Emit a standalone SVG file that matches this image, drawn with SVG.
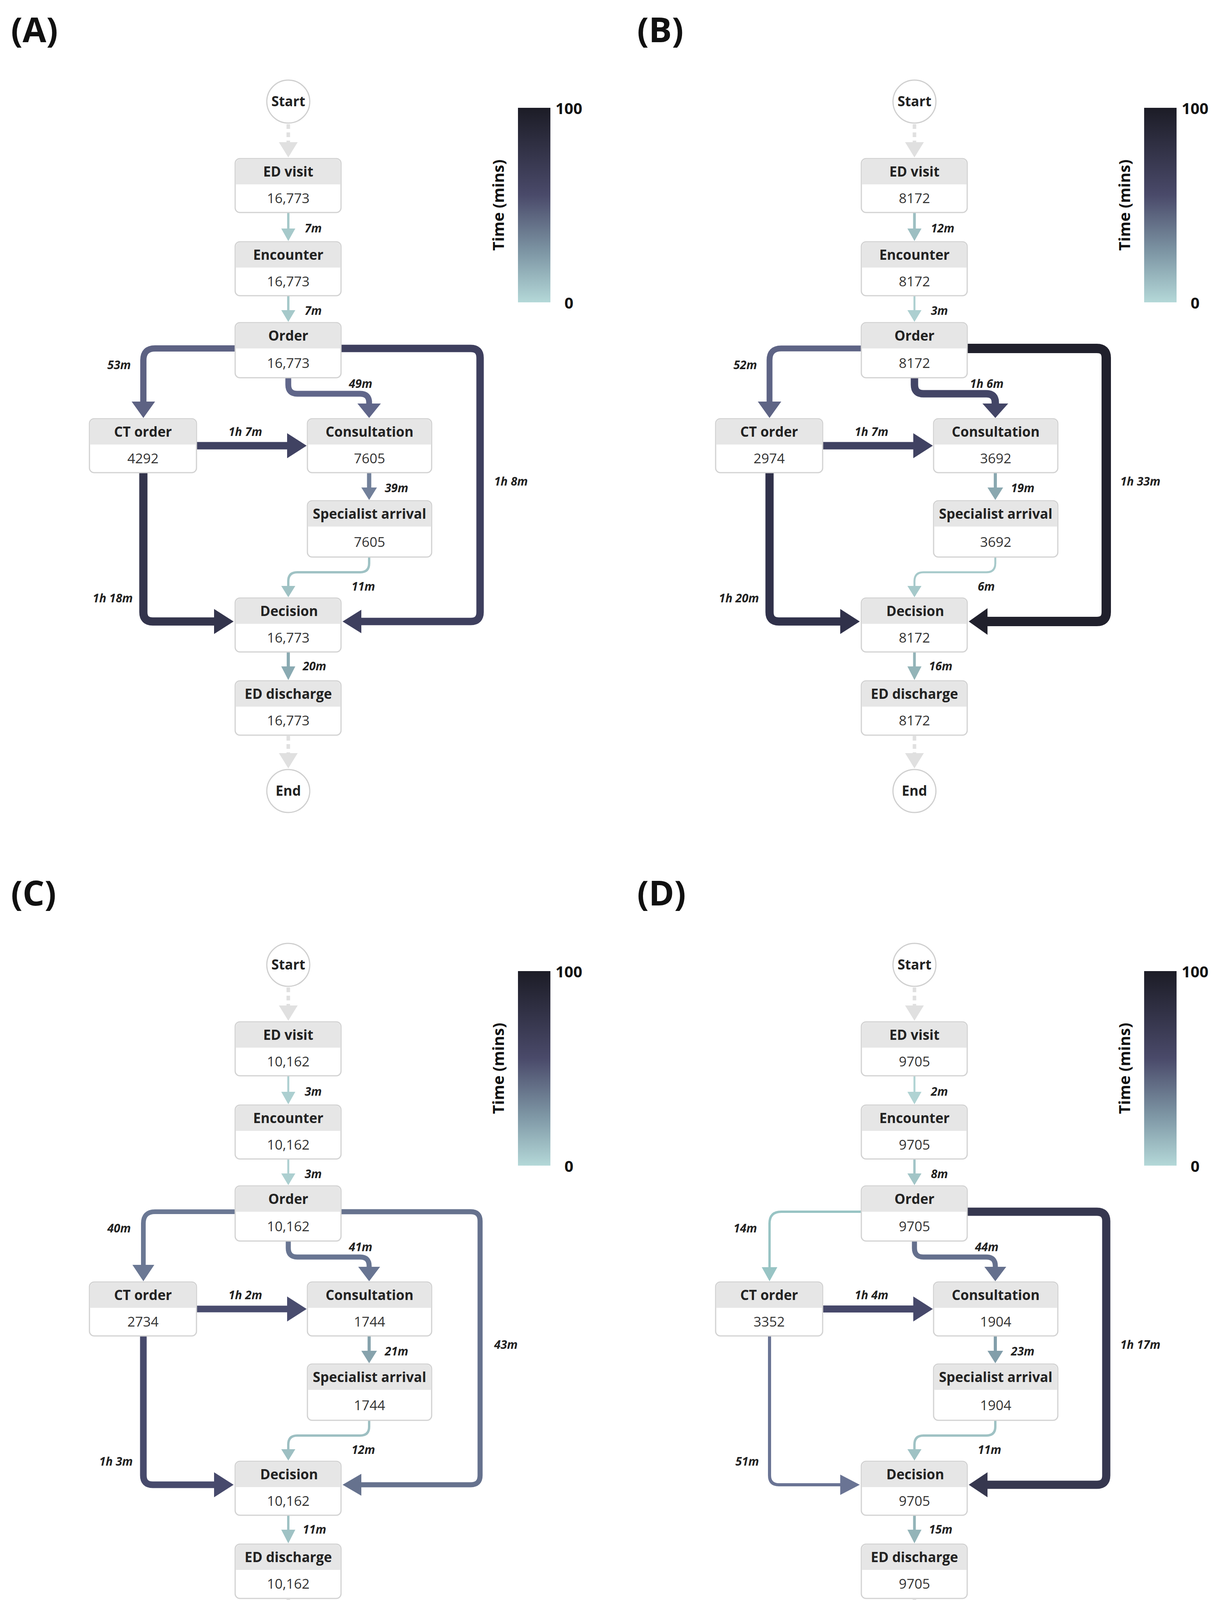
<svg xmlns="http://www.w3.org/2000/svg" width="3136" height="4333" viewBox="0 0 3136 4333">
<style>
.bg{fill:#fff}
.box{fill:#fff;stroke:#d2d2d2;stroke-width:3}
.hd{fill:#e6e6e6}
.ci{fill:#fff;stroke:#cfcfcf;stroke-width:3}
.t{font-family:"Open Sans","Noto Sans",sans-serif;font-weight:bold;font-size:35px;fill:#222;text-anchor:middle}
.v{font-family:"Open Sans","Noto Sans",sans-serif;font-size:35px;fill:#333;text-anchor:middle}
.l{font-family:"Open Sans","Noto Sans",sans-serif;font-weight:bold;font-style:italic;font-size:30px;fill:#222}
.p{font-family:"Open Sans","Noto Sans",sans-serif;font-weight:bold;font-size:88px;fill:#111}
.s{font-family:"Open Sans","Noto Sans",sans-serif;font-weight:bold;font-size:40px;fill:#111}
.e{fill:none;stroke-linejoin:round}
.d{fill:none;stroke:#e0e0e0;stroke-width:9;stroke-dasharray:12 9}
</style>
<defs>
<linearGradient id="g" x1="0" y1="0" x2="0" y2="1">
<stop offset="0" stop-color="#1c1c26"/><stop offset="0.45" stop-color="#4a4a6a"/><stop offset="0.75" stop-color="#7f98a6"/><stop offset="1" stop-color="#b4d8d8"/>
</linearGradient>
</defs>
<rect class="bg" width="3136" height="4333"/>

<!-- PANEL A -->
<g id="panelA">
<text class="p" x="28" y="108">(A)</text>
<g id="A-scale"><rect x="1326" y="276" width="83" height="498" fill="url(#g)"/><text class="s" x="1422" y="292">100</text><text class="s" x="1445" y="790">0</text><text class="s" transform="translate(1290,525) rotate(-90)" text-anchor="middle">Time (mins)</text></g>
<g id="A-edges">
<line class="d" x1="738" y1="318" x2="738" y2="366"/><polygon points="714,364 762,364 738,403" fill="#e0e0e0"/>
<line class="e" x1="738" y1="544" x2="738" y2="588" stroke="#a6c9ca" stroke-width="6"/><polygon points="720,585 756,585 738,617" fill="#a6c9ca"/>
<line class="e" x1="738" y1="757" x2="738" y2="797" stroke="#a6c9ca" stroke-width="6"/><polygon points="720,794 756,794 738,824" fill="#a6c9ca"/>
<path class="e" d="M602,892 H397 Q367,892 367,922 V1030" stroke="#5d6283" stroke-width="16"/><polygon points="337,1028 397,1028 367,1070" fill="#5d6283"/>
<path class="e" d="M738,967 V985 Q738,1008 761,1008 H922 Q945,1008 945,1031 V1035" stroke="#60668a" stroke-width="15"/><polygon points="915,1033 975,1033 945,1070" fill="#60668a"/>
<path class="e" d="M873,892 H1205 Q1229,892 1229,916 V1567 Q1229,1591 1205,1591 H923" stroke="#3e3f5e" stroke-width="19"/><polygon points="925,1561 925,1621 877,1591" fill="#3e3f5e"/>
<line class="e" x1="503" y1="1141" x2="737" y2="1141" stroke="#404262" stroke-width="19"/><polygon points="735,1109 735,1173 785,1141" fill="#404262"/>
<path class="e" d="M367,1210 V1567 Q367,1591 391,1591 H550" stroke="#33344c" stroke-width="21"/><polygon points="548,1559 548,1623 598,1591" fill="#33344c"/>
<line class="e" x1="945" y1="1210" x2="945" y2="1250" stroke="#72809a" stroke-width="11"/><polygon points="925,1248 965,1248 945,1280" fill="#72809a"/>
<path class="e" d="M945,1426 V1442 Q945,1465 922,1465 H761 Q738,1465 738,1488 V1502" stroke="#9fc2c4" stroke-width="6"/><polygon points="720,1500 756,1500 738,1529" fill="#9fc2c4"/>
<line class="e" x1="738" y1="1669" x2="738" y2="1709" stroke="#8aaab2" stroke-width="8"/><polygon points="720,1706 756,1706 738,1741" fill="#8aaab2"/>
<line class="d" x1="738" y1="1884" x2="738" y2="1930"/><polygon points="714,1928 762,1928 738,1967" fill="#e0e0e0"/>
<text class="l" x="780" y="595">7m</text><text class="l" x="780" y="806">7m</text>
<text class="l" x="335" y="945" text-anchor="end">53m</text><text class="l" x="893" y="993">49m</text>
<text class="l" x="1265" y="1243">1h 8m</text><text class="l" x="585" y="1116">1h 7m</text>
<text class="l" x="340" y="1542" text-anchor="end">1h 18m</text><text class="l" x="985" y="1260">39m</text>
<text class="l" x="900" y="1512">11m</text><text class="l" x="775" y="1716">20m</text>
</g>
<g id="A-start"><circle class="ci" cx="738" cy="260" r="55"/><text class="t" x="738" y="272" font-size="32">Start</text></g>
<g id="A-edvisit"><rect class="box" x="602" y="406" width="271" height="138" rx="12"/><rect class="hd" x="604" y="408" width="267" height="64" rx="10"/><rect class="hd" x="604" y="446" width="267" height="26"/><text class="t" x="738" y="452">ED visit</text><text class="v" x="738" y="520">16,773</text></g>
<g id="A-encounter"><rect class="box" x="602" y="619" width="271" height="138" rx="12"/><rect class="hd" x="604" y="621" width="267" height="64" rx="10"/><rect class="hd" x="604" y="659" width="267" height="26"/><text class="t" x="738" y="665">Encounter</text><text class="v" x="738" y="733">16,773</text></g>
<g id="A-order"><rect class="box" x="602" y="826" width="271" height="141" rx="12"/><rect class="hd" x="604" y="828" width="267" height="64" rx="10"/><rect class="hd" x="604" y="866" width="267" height="26"/><text class="t" x="738" y="872">Order</text><text class="v" x="738" y="942">16,773</text></g>
<g id="A-ct"><rect class="box" x="229" y="1072" width="274" height="138" rx="12"/><rect class="hd" x="231" y="1074" width="270" height="64" rx="10"/><rect class="hd" x="231" y="1112" width="270" height="26"/><text class="t" x="366" y="1118">CT order</text><text class="v" x="366" y="1186">4292</text></g>
<g id="A-consult"><rect class="box" x="787" y="1072" width="318" height="138" rx="12"/><rect class="hd" x="789" y="1074" width="314" height="64" rx="10"/><rect class="hd" x="789" y="1112" width="314" height="26"/><text class="t" x="946" y="1118">Consultation</text><text class="v" x="946" y="1186">7605</text></g>
<g id="A-spec"><rect class="box" x="787" y="1282" width="318" height="144" rx="12"/><rect class="hd" x="789" y="1284" width="314" height="64" rx="10"/><rect class="hd" x="789" y="1322" width="314" height="26"/><text class="t" x="946" y="1328">Specialist arrival</text><text class="v" x="946" y="1400">7605</text></g>
<g id="A-decision"><rect class="box" x="602" y="1531" width="271" height="138" rx="12"/><rect class="hd" x="604" y="1533" width="267" height="64" rx="10"/><rect class="hd" x="604" y="1571" width="267" height="26"/><text class="t" x="740" y="1577">Decision</text><text class="v" x="738" y="1645">16,773</text></g>
<g id="A-discharge"><rect class="box" x="602" y="1743" width="271" height="139" rx="12"/><rect class="hd" x="604" y="1745" width="267" height="64" rx="10"/><rect class="hd" x="604" y="1783" width="267" height="26"/><text class="t" x="738" y="1789">ED discharge</text><text class="v" x="738" y="1857">16,773</text></g>
<g id="A-end"><circle class="ci" cx="738" cy="2025" r="55"/><text class="t" x="738" y="2037" font-size="32">End</text></g>
</g>

<!-- PANEL B -->
<g id="panelB" transform="translate(1603,0)">
<text class="p" x="28" y="108">(B)</text>
<g id="B-scale"><rect x="1326" y="276" width="83" height="498" fill="url(#g)"/><text class="s" x="1422" y="292">100</text><text class="s" x="1445" y="790">0</text><text class="s" transform="translate(1290,525) rotate(-90)" text-anchor="middle">Time (mins)</text></g>
<g id="B-edges">
<line class="d" x1="738" y1="318" x2="738" y2="366"/><polygon points="714,364 762,364 738,403" fill="#e0e0e0"/>
<line class="e" x1="738" y1="544" x2="738" y2="588" stroke="#9dbfc2" stroke-width="7"/><polygon points="720,585 756,585 738,617" fill="#9dbfc2"/>
<line class="e" x1="738" y1="757" x2="738" y2="797" stroke="#accfd0" stroke-width="5"/><polygon points="720,794 756,794 738,824" fill="#accfd0"/>
<path class="e" d="M602,892 H397 Q367,892 367,922 V1030" stroke="#5e6485" stroke-width="15"/><polygon points="337,1028 397,1028 367,1070" fill="#5e6485"/>
<path class="e" d="M738,967 V985 Q738,1008 761,1008 H922 Q945,1008 945,1031 V1035" stroke="#434566" stroke-width="19"/><polygon points="912,1033 978,1033 945,1070" fill="#434566"/>
<path class="e" d="M873,892 H1205 Q1229,892 1229,916 V1567 Q1229,1591 1205,1591 H923" stroke="#20202c" stroke-width="24"/><polygon points="925,1557 925,1625 877,1591" fill="#20202c"/>
<line class="e" x1="503" y1="1141" x2="737" y2="1141" stroke="#404262" stroke-width="19"/><polygon points="735,1109 735,1173 785,1141" fill="#404262"/>
<path class="e" d="M367,1210 V1567 Q367,1591 391,1591 H550" stroke="#30314a" stroke-width="21"/><polygon points="548,1559 548,1623 598,1591" fill="#30314a"/>
<line class="e" x1="945" y1="1210" x2="945" y2="1250" stroke="#8aa8b0" stroke-width="8"/><polygon points="925,1248 965,1248 945,1280" fill="#8aa8b0"/>
<path class="e" d="M945,1426 V1442 Q945,1465 922,1465 H761 Q738,1465 738,1488 V1502" stroke="#a6c9ca" stroke-width="5"/><polygon points="720,1500 756,1500 738,1529" fill="#a6c9ca"/>
<line class="e" x1="738" y1="1669" x2="738" y2="1709" stroke="#93b4b8" stroke-width="7"/><polygon points="720,1706 756,1706 738,1741" fill="#93b4b8"/>
<line class="d" x1="738" y1="1884" x2="738" y2="1930"/><polygon points="714,1928 762,1928 738,1967" fill="#e0e0e0"/>
<text class="l" x="780" y="595">12m</text><text class="l" x="780" y="806">3m</text>
<text class="l" x="335" y="945" text-anchor="end">52m</text><text class="l" x="880" y="993">1h 6m</text>
<text class="l" x="1265" y="1243">1h 33m</text><text class="l" x="585" y="1116">1h 7m</text>
<text class="l" x="340" y="1542" text-anchor="end">1h 20m</text><text class="l" x="985" y="1260">19m</text>
<text class="l" x="900" y="1512">6m</text><text class="l" x="775" y="1716">16m</text>
</g>
<g id="B-start"><circle class="ci" cx="738" cy="260" r="55"/><text class="t" x="738" y="272" font-size="32">Start</text></g>
<g id="B-edvisit"><rect class="box" x="602" y="406" width="271" height="138" rx="12"/><rect class="hd" x="604" y="408" width="267" height="64" rx="10"/><rect class="hd" x="604" y="446" width="267" height="26"/><text class="t" x="738" y="452">ED visit</text><text class="v" x="738" y="520">8172</text></g>
<g id="B-encounter"><rect class="box" x="602" y="619" width="271" height="138" rx="12"/><rect class="hd" x="604" y="621" width="267" height="64" rx="10"/><rect class="hd" x="604" y="659" width="267" height="26"/><text class="t" x="738" y="665">Encounter</text><text class="v" x="738" y="733">8172</text></g>
<g id="B-order"><rect class="box" x="602" y="826" width="271" height="141" rx="12"/><rect class="hd" x="604" y="828" width="267" height="64" rx="10"/><rect class="hd" x="604" y="866" width="267" height="26"/><text class="t" x="738" y="872">Order</text><text class="v" x="738" y="942">8172</text></g>
<g id="B-ct"><rect class="box" x="229" y="1072" width="274" height="138" rx="12"/><rect class="hd" x="231" y="1074" width="270" height="64" rx="10"/><rect class="hd" x="231" y="1112" width="270" height="26"/><text class="t" x="366" y="1118">CT order</text><text class="v" x="366" y="1186">2974</text></g>
<g id="B-consult"><rect class="box" x="787" y="1072" width="318" height="138" rx="12"/><rect class="hd" x="789" y="1074" width="314" height="64" rx="10"/><rect class="hd" x="789" y="1112" width="314" height="26"/><text class="t" x="946" y="1118">Consultation</text><text class="v" x="946" y="1186">3692</text></g>
<g id="B-spec"><rect class="box" x="787" y="1282" width="318" height="144" rx="12"/><rect class="hd" x="789" y="1284" width="314" height="64" rx="10"/><rect class="hd" x="789" y="1322" width="314" height="26"/><text class="t" x="946" y="1328">Specialist arrival</text><text class="v" x="946" y="1400">3692</text></g>
<g id="B-decision"><rect class="box" x="602" y="1531" width="271" height="138" rx="12"/><rect class="hd" x="604" y="1533" width="267" height="64" rx="10"/><rect class="hd" x="604" y="1571" width="267" height="26"/><text class="t" x="740" y="1577">Decision</text><text class="v" x="738" y="1645">8172</text></g>
<g id="B-discharge"><rect class="box" x="602" y="1743" width="271" height="139" rx="12"/><rect class="hd" x="604" y="1745" width="267" height="64" rx="10"/><rect class="hd" x="604" y="1783" width="267" height="26"/><text class="t" x="738" y="1789">ED discharge</text><text class="v" x="738" y="1857">8172</text></g>
<g id="B-end"><circle class="ci" cx="738" cy="2025" r="55"/><text class="t" x="738" y="2037" font-size="32">End</text></g>
</g>

<!-- PANEL C -->
<g id="panelC" transform="translate(0,2210)">
<text class="p" x="28" y="108">(C)</text>
<g id="C-scale"><rect x="1326" y="276" width="83" height="498" fill="url(#g)"/><text class="s" x="1422" y="292">100</text><text class="s" x="1445" y="790">0</text><text class="s" transform="translate(1290,525) rotate(-90)" text-anchor="middle">Time (mins)</text></g>
<g id="C-edges">
<line class="d" x1="738" y1="318" x2="738" y2="366"/><polygon points="714,364 762,364 738,403" fill="#e0e0e0"/>
<line class="e" x1="738" y1="544" x2="738" y2="588" stroke="#accfd0" stroke-width="5"/><polygon points="720,585 756,585 738,617" fill="#accfd0"/>
<line class="e" x1="738" y1="757" x2="738" y2="797" stroke="#accfd0" stroke-width="5"/><polygon points="720,794 756,794 738,824" fill="#accfd0"/>
<path class="e" d="M602,892 H397 Q367,892 367,922 V1030" stroke="#6b7894" stroke-width="12"/><polygon points="339,1028 395,1028 367,1070" fill="#6b7894"/>
<path class="e" d="M738,967 V985 Q738,1008 761,1008 H922 Q945,1008 945,1031 V1035" stroke="#687592" stroke-width="13"/><polygon points="917,1033 973,1033 945,1070" fill="#687592"/>
<path class="e" d="M873,892 H1205 Q1229,892 1229,916 V1567 Q1229,1591 1205,1591 H923" stroke="#66728e" stroke-width="13"/><polygon points="925,1563 925,1619 877,1591" fill="#66728e"/>
<line class="e" x1="503" y1="1141" x2="737" y2="1141" stroke="#494c6e" stroke-width="17"/><polygon points="735,1109 735,1173 785,1141" fill="#494c6e"/>
<path class="e" d="M367,1210 V1567 Q367,1591 391,1591 H550" stroke="#474a6c" stroke-width="17"/><polygon points="548,1559 548,1623 598,1591" fill="#474a6c"/>
<line class="e" x1="945" y1="1210" x2="945" y2="1250" stroke="#86a2ac" stroke-width="8"/><polygon points="925,1248 965,1248 945,1280" fill="#86a2ac"/>
<path class="e" d="M945,1426 V1442 Q945,1465 922,1465 H761 Q738,1465 738,1488 V1502" stroke="#9dbfc2" stroke-width="6"/><polygon points="720,1500 756,1500 738,1529" fill="#9dbfc2"/>
<line class="e" x1="738" y1="1669" x2="738" y2="1709" stroke="#9fc2c4" stroke-width="6"/><polygon points="720,1706 756,1706 738,1741" fill="#9fc2c4"/>
<line class="d" x1="738" y1="1884" x2="738" y2="1930"/><polygon points="714,1928 762,1928 738,1967" fill="#e0e0e0"/>
<text class="l" x="780" y="595">3m</text><text class="l" x="780" y="806">3m</text>
<text class="l" x="335" y="945" text-anchor="end">40m</text><text class="l" x="893" y="993">41m</text>
<text class="l" x="1265" y="1243">43m</text><text class="l" x="585" y="1116">1h 2m</text>
<text class="l" x="340" y="1542" text-anchor="end">1h 3m</text><text class="l" x="985" y="1260">21m</text>
<text class="l" x="900" y="1512">12m</text><text class="l" x="775" y="1716">11m</text>
</g>
<g id="C-start"><circle class="ci" cx="738" cy="260" r="55"/><text class="t" x="738" y="272" font-size="32">Start</text></g>
<g id="C-edvisit"><rect class="box" x="602" y="406" width="271" height="138" rx="12"/><rect class="hd" x="604" y="408" width="267" height="64" rx="10"/><rect class="hd" x="604" y="446" width="267" height="26"/><text class="t" x="738" y="452">ED visit</text><text class="v" x="738" y="520">10,162</text></g>
<g id="C-encounter"><rect class="box" x="602" y="619" width="271" height="138" rx="12"/><rect class="hd" x="604" y="621" width="267" height="64" rx="10"/><rect class="hd" x="604" y="659" width="267" height="26"/><text class="t" x="738" y="665">Encounter</text><text class="v" x="738" y="733">10,162</text></g>
<g id="C-order"><rect class="box" x="602" y="826" width="271" height="141" rx="12"/><rect class="hd" x="604" y="828" width="267" height="64" rx="10"/><rect class="hd" x="604" y="866" width="267" height="26"/><text class="t" x="738" y="872">Order</text><text class="v" x="738" y="942">10,162</text></g>
<g id="C-ct"><rect class="box" x="229" y="1072" width="274" height="138" rx="12"/><rect class="hd" x="231" y="1074" width="270" height="64" rx="10"/><rect class="hd" x="231" y="1112" width="270" height="26"/><text class="t" x="366" y="1118">CT order</text><text class="v" x="366" y="1186">2734</text></g>
<g id="C-consult"><rect class="box" x="787" y="1072" width="318" height="138" rx="12"/><rect class="hd" x="789" y="1074" width="314" height="64" rx="10"/><rect class="hd" x="789" y="1112" width="314" height="26"/><text class="t" x="946" y="1118">Consultation</text><text class="v" x="946" y="1186">1744</text></g>
<g id="C-spec"><rect class="box" x="787" y="1282" width="318" height="144" rx="12"/><rect class="hd" x="789" y="1284" width="314" height="64" rx="10"/><rect class="hd" x="789" y="1322" width="314" height="26"/><text class="t" x="946" y="1328">Specialist arrival</text><text class="v" x="946" y="1400">1744</text></g>
<g id="C-decision"><rect class="box" x="602" y="1531" width="271" height="138" rx="12"/><rect class="hd" x="604" y="1533" width="267" height="64" rx="10"/><rect class="hd" x="604" y="1571" width="267" height="26"/><text class="t" x="740" y="1577">Decision</text><text class="v" x="738" y="1645">10,162</text></g>
<g id="C-discharge"><rect class="box" x="602" y="1743" width="271" height="139" rx="12"/><rect class="hd" x="604" y="1745" width="267" height="64" rx="10"/><rect class="hd" x="604" y="1783" width="267" height="26"/><text class="t" x="738" y="1789">ED discharge</text><text class="v" x="738" y="1857">10,162</text></g>
<g id="C-end"><circle class="ci" cx="738" cy="2025" r="55"/><text class="t" x="738" y="2037" font-size="32">End</text></g>
</g>

<!-- PANEL D -->
<g id="panelD" transform="translate(1603,2210)">
<text class="p" x="28" y="108">(D)</text>
<g id="D-scale"><rect x="1326" y="276" width="83" height="498" fill="url(#g)"/><text class="s" x="1422" y="292">100</text><text class="s" x="1445" y="790">0</text><text class="s" transform="translate(1290,525) rotate(-90)" text-anchor="middle">Time (mins)</text></g>
<g id="D-edges">
<line class="d" x1="738" y1="318" x2="738" y2="366"/><polygon points="714,364 762,364 738,403" fill="#e0e0e0"/>
<line class="e" x1="738" y1="544" x2="738" y2="588" stroke="#b0d3d3" stroke-width="5"/><polygon points="720,585 756,585 738,617" fill="#b0d3d3"/>
<line class="e" x1="738" y1="757" x2="738" y2="797" stroke="#a2c5c7" stroke-width="6"/><polygon points="720,794 756,794 738,824" fill="#a2c5c7"/>
<path class="e" d="M602,892 H397 Q367,892 367,922 V1036" stroke="#98c4c4" stroke-width="6"/><polygon points="347,1034 387,1034 367,1070" fill="#98c4c4"/>
<path class="e" d="M738,967 V985 Q738,1008 761,1008 H922 Q945,1008 945,1031 V1035" stroke="#65708d" stroke-width="13"/><polygon points="917,1033 973,1033 945,1070" fill="#65708d"/>
<path class="e" d="M873,892 H1205 Q1229,892 1229,916 V1567 Q1229,1591 1205,1591 H923" stroke="#36374f" stroke-width="21"/><polygon points="925,1559 925,1623 877,1591" fill="#36374f"/>
<line class="e" x1="503" y1="1141" x2="737" y2="1141" stroke="#46486a" stroke-width="18"/><polygon points="735,1109 735,1173 785,1141" fill="#46486a"/>
<path class="e" d="M367,1210 V1567 Q367,1591 391,1591 H550" stroke="#6a7494" stroke-width="8"/><polygon points="548,1565 548,1617 598,1591" fill="#6a7494"/>
<line class="e" x1="945" y1="1210" x2="945" y2="1250" stroke="#829eaa" stroke-width="8"/><polygon points="925,1248 965,1248 945,1280" fill="#829eaa"/>
<path class="e" d="M945,1426 V1442 Q945,1465 922,1465 H761 Q738,1465 738,1488 V1502" stroke="#9fc2c4" stroke-width="6"/><polygon points="720,1500 756,1500 738,1529" fill="#9fc2c4"/>
<line class="e" x1="738" y1="1669" x2="738" y2="1709" stroke="#93b4b8" stroke-width="7"/><polygon points="720,1706 756,1706 738,1741" fill="#93b4b8"/>
<line class="d" x1="738" y1="1884" x2="738" y2="1930"/><polygon points="714,1928 762,1928 738,1967" fill="#e0e0e0"/>
<text class="l" x="780" y="595">2m</text><text class="l" x="780" y="806">8m</text>
<text class="l" x="335" y="945" text-anchor="end">14m</text><text class="l" x="893" y="993">44m</text>
<text class="l" x="1265" y="1243">1h 17m</text><text class="l" x="585" y="1116">1h 4m</text>
<text class="l" x="340" y="1542" text-anchor="end">51m</text><text class="l" x="985" y="1260">23m</text>
<text class="l" x="900" y="1512">11m</text><text class="l" x="775" y="1716">15m</text>
</g>
<g id="D-start"><circle class="ci" cx="738" cy="260" r="55"/><text class="t" x="738" y="272" font-size="32">Start</text></g>
<g id="D-edvisit"><rect class="box" x="602" y="406" width="271" height="138" rx="12"/><rect class="hd" x="604" y="408" width="267" height="64" rx="10"/><rect class="hd" x="604" y="446" width="267" height="26"/><text class="t" x="738" y="452">ED visit</text><text class="v" x="738" y="520">9705</text></g>
<g id="D-encounter"><rect class="box" x="602" y="619" width="271" height="138" rx="12"/><rect class="hd" x="604" y="621" width="267" height="64" rx="10"/><rect class="hd" x="604" y="659" width="267" height="26"/><text class="t" x="738" y="665">Encounter</text><text class="v" x="738" y="733">9705</text></g>
<g id="D-order"><rect class="box" x="602" y="826" width="271" height="141" rx="12"/><rect class="hd" x="604" y="828" width="267" height="64" rx="10"/><rect class="hd" x="604" y="866" width="267" height="26"/><text class="t" x="738" y="872">Order</text><text class="v" x="738" y="942">9705</text></g>
<g id="D-ct"><rect class="box" x="229" y="1072" width="274" height="138" rx="12"/><rect class="hd" x="231" y="1074" width="270" height="64" rx="10"/><rect class="hd" x="231" y="1112" width="270" height="26"/><text class="t" x="366" y="1118">CT order</text><text class="v" x="366" y="1186">3352</text></g>
<g id="D-consult"><rect class="box" x="787" y="1072" width="318" height="138" rx="12"/><rect class="hd" x="789" y="1074" width="314" height="64" rx="10"/><rect class="hd" x="789" y="1112" width="314" height="26"/><text class="t" x="946" y="1118">Consultation</text><text class="v" x="946" y="1186">1904</text></g>
<g id="D-spec"><rect class="box" x="787" y="1282" width="318" height="144" rx="12"/><rect class="hd" x="789" y="1284" width="314" height="64" rx="10"/><rect class="hd" x="789" y="1322" width="314" height="26"/><text class="t" x="946" y="1328">Specialist arrival</text><text class="v" x="946" y="1400">1904</text></g>
<g id="D-decision"><rect class="box" x="602" y="1531" width="271" height="138" rx="12"/><rect class="hd" x="604" y="1533" width="267" height="64" rx="10"/><rect class="hd" x="604" y="1571" width="267" height="26"/><text class="t" x="740" y="1577">Decision</text><text class="v" x="738" y="1645">9705</text></g>
<g id="D-discharge"><rect class="box" x="602" y="1743" width="271" height="139" rx="12"/><rect class="hd" x="604" y="1745" width="267" height="64" rx="10"/><rect class="hd" x="604" y="1783" width="267" height="26"/><text class="t" x="738" y="1789">ED discharge</text><text class="v" x="738" y="1857">9705</text></g>
<g id="D-end"><circle class="ci" cx="738" cy="2025" r="55"/><text class="t" x="738" y="2037" font-size="32">End</text></g>
</g>
</svg>
